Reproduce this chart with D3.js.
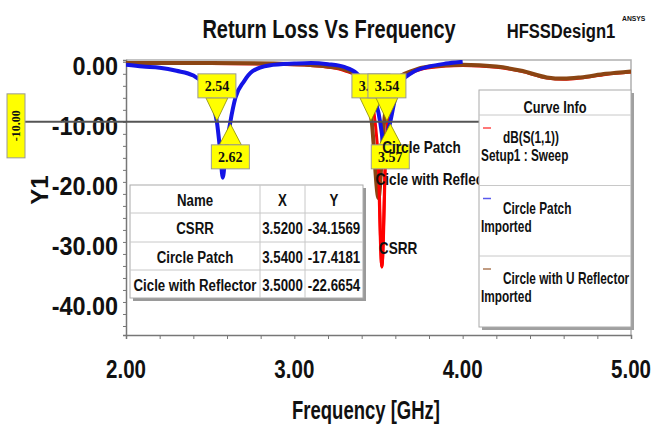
<!DOCTYPE html>
<html>
<head>
<meta charset="UTF-8">
<title>Return Loss Vs Frequency</title>
<style>
  body{margin:0;background:#fff;}
  svg text{font-family:"Liberation Sans",Arial,sans-serif;font-weight:bold;fill:#111;}
  .mk text, .ref text{font-family:"Liberation Serif","Times New Roman",serif;}
  .table line, .legend line.sep{stroke:#c8c8c8;stroke-width:1;}
</style>
</head>
<body>
<script src="https://cdnjs.cloudflare.com/ajax/libs/d3/7.8.5/d3.min.js"></script>
<script>
/// data

// CSRR  -> dB(S(1,1)) Setup1 : Sweep
var csrrF  = [2.00, 2.50, 3.00, 3.20, 3.30, 3.40, 3.45, 3.48, 3.50, 3.52, 3.54, 3.56, 3.60, 3.70, 3.80, 4.00, 4.20, 4.35, 4.50, 4.60, 4.70, 4.85, 5.00];
var csrrDb = [-0.3, -0.3, -0.5, -0.9, -1.5, -3.0, -5.5, -10.0, -17.0, -34.16, -17.0, -8.0, -4.0, -1.8, -1.0, -0.6, -0.9, -1.6, -2.7, -2.9, -2.7, -2.1, -1.7];

// Circle Patch (imported)
var patchF  = [2.00, 2.10, 2.20, 2.30, 2.40, 2.45, 2.48, 2.51, 2.54, 2.56, 2.575, 2.59, 2.62, 2.65, 2.70, 2.75, 2.85, 3.00, 3.10, 3.20, 3.30, 3.37, 3.42, 3.47, 3.50, 3.52, 3.54, 3.555, 3.57, 3.60, 3.63, 3.70, 3.80, 3.90, 4.00];
var patchDb = [-0.5, -0.8, -1.0, -1.5, -2.3, -3.3, -4.5, -6.8, -10.0, -15.0, -19.3, -15.5, -10.0, -6.0, -3.3, -1.6, -0.6, -0.3, -0.2, -0.4, -0.9, -1.9, -3.5, -6.0, -8.5, -12.0, -17.42, -12.0, -10.0, -6.0, -3.5, -1.8, -0.8, -0.3, 0.0];

// Circle with U Reflector (imported)
var reflF  = [2.00, 2.50, 3.00, 3.20, 3.30, 3.38, 3.43, 3.46, 3.50, 3.53, 3.56, 3.60, 3.70, 3.80, 4.00, 4.20, 4.35, 4.50, 4.60, 4.70, 4.85, 5.00];
var reflDb = [-0.2, -0.2, -0.4, -0.8, -1.3, -2.5, -4.5, -10.0, -22.67, -11.0, -5.0, -3.0, -1.5, -0.8, -0.5, -0.8, -1.5, -2.6, -2.8, -2.6, -2.0, -1.6];

var xTicks = [2, 3, 4, 5];
var yTicks = [0, -10, -20, -30, -40];
var refLevel = -10;

var markerF      = [2.54, 2.62, 3.455, 3.55, 3.57];
var markerLabels = ["2.54", "2.62", "3.46", "3.54", "3.57"];
var markerAbove  = [true, false, true, true, false];

var tableNames = ["CSRR", "Circle Patch", "Cicle with Reflector"];
var tableX     = [3.5200, 3.5400, 3.5000];
var tableY     = [-34.1569, -17.4181, -22.6654];

var legendNames = ["dB(S(1,1))", "Circle Patch", "Circle with U Reflector"];
var legendSubs  = ["Setup1 : Sweep", "Imported", "Imported"];

/// layout

var W = 652, H = 430;
var plot = {left: 126, right: 631, top: 60, bottom: 335};
var colors = ["#ff0000", "#1414e6", "#8b4513"];

var svg = d3.select("body").append("svg")
    .attr("width", W).attr("height", H);

var x = d3.scaleLinear().domain([2, 5]).range([plot.left, plot.right]);
var y = d3.scaleLinear().domain([-45.5, 0.3]).range([plot.bottom, plot.top]);
var fmt = function(d) { return d.toFixed(2); };

// condensed bold text, like the HFSS plot font
function label(g, px, py, str, size, sx, anchor) {
  return g.append("text")
      .attr("transform", "translate(" + px + "," + py + ") scale(" + sx + ",1)")
      .attr("text-anchor", anchor || "start")
      .style("font-size", size + "px")
      .text(str);
}

// titles
label(svg, 329, 38, "Return Loss Vs Frequency", 25, 0.8, "middle");
label(svg, 561, 38, "HFSSDesign1", 21, 0.79, "middle");
label(svg, 622, 21, "ANSYS", 8, 0.85);
label(svg, 366, 419, "Frequency [GHz]", 25, 0.74, "middle");
svg.append("text").attr("transform", "translate(48,190) rotate(-90)")
    .attr("text-anchor", "middle").style("font-size", "24px").text("Y1");

// plot frame (top / right)
svg.append("path")
    .attr("d", "M" + plot.left + "," + plot.top + "H" + plot.right + "V" + plot.bottom)
    .attr("fill", "none").attr("stroke", "#b0b0b0").attr("stroke-width", 1.5);

// axes
var gx = svg.append("g").attr("transform", "translate(0," + plot.bottom + ")")
    .call(d3.axisBottom(x).tickValues(d3.range(2, 5.01, 0.2)).tickSize(4).tickFormat(""));
var gy = svg.append("g").attr("transform", "translate(" + plot.left + ",0)")
    .call(d3.axisLeft(y).tickValues(d3.range(-44, 0.1, 2)).tickSize(3).tickFormat(""));
[gx, gy].forEach(function(g) {
  g.select(".domain").attr("stroke", "#777").attr("stroke-width", 1.5);
  g.selectAll(".tick line").attr("stroke", "#777");
});

var xl = svg.append("g"), yl = svg.append("g");
xTicks.forEach(function(t) { label(xl, x(t), 378, fmt(t), 26, 0.79, "middle"); });
yTicks.forEach(function(t) { label(yl, 118, y(t) + 13, fmt(t), 26, 0.9, "end"); });

// curves
svg.append("clipPath").attr("id", "clip").append("rect")
    .attr("x", plot.left).attr("y", plot.top)
    .attr("width", plot.right - plot.left).attr("height", plot.bottom - plot.top);

var line = d3.line()
    .x(function(d) { return x(d[0]); })
    .y(function(d) { return y(d[1]); })
    .curve(d3.curveMonotoneX);

var series = [
  {f: csrrF, v: csrrDb, w: 3},
  {f: patchF, v: patchDb, w: 4},
  {f: reflF, v: reflDb, w: 4}
];
var curves = svg.append("g").attr("clip-path", "url(#clip)");
[0, 2, 1].forEach(function(i) {
  var s = series[i];
  curves.append("path")
      .datum(d3.zip(s.f, s.v))
      .attr("d", line)
      .attr("fill", "none")
      .attr("stroke", colors[i])
      .attr("stroke-width", s.w)
      .attr("stroke-linejoin", "round");
});
// keep red visible in the notch
curves.append("path")
    .datum(d3.zip(csrrF, csrrDb).filter(function(d) { return d[0] >= 3.50 && d[0] <= 3.54; }))
    .attr("d", line).attr("fill", "none").attr("stroke", colors[0]).attr("stroke-width", 3);

// -10 dB reference marker line
var ref = svg.append("g").attr("class", "ref");
ref.append("line")
    .attr("x1", 25).attr("x2", plot.right)
    .attr("y1", y(refLevel)).attr("y2", y(refLevel))
    .attr("stroke", "#555").attr("stroke-width", 2);
ref.append("rect").attr("x", 7).attr("y", y(refLevel) - 28).attr("width", 18).attr("height", 64)
    .attr("fill", "#ffff00").attr("stroke", "#999");
ref.append("text").attr("transform", "translate(20," + (y(refLevel) + 4) + ") rotate(-90)")
    .attr("text-anchor", "middle").style("font-size", "12px").text(fmt(refLevel));

// marker callouts
var mk = svg.append("g").attr("class", "mk");
markerF.forEach(function(f, i) {
  var cx = x(f), ly = y(refLevel), bw = 38, bh = 24;
  var edge = markerAbove[i] ? ly - 24 : ly + 23;
  var top = markerAbove[i] ? edge - bh : edge;
  var g = mk.append("g");
  g.append("path")
      .attr("d", "M" + (cx - 11) + "," + edge + "L" + cx + "," + (markerAbove[i] ? ly - 1 : ly + 2) + "L" + (cx + 11) + "," + edge + "Z")
      .attr("fill", "#ffff00").attr("stroke", "#8a8a00").attr("stroke-width", 0.8);
  g.append("rect").attr("x", cx - bw / 2).attr("y", top).attr("width", bw).attr("height", bh)
      .attr("fill", "#ffff00").attr("stroke", "#999");
  g.append("text").attr("x", cx).attr("y", top + bh / 2 + 5)
      .attr("text-anchor", "middle").style("font-size", "14px").text(markerLabels[i]);
});

// marker name labels at the minima
var names = svg.append("g");
tableNames.forEach(function(n, i) {
  label(names, x(tableX[i]) - 3, y(tableY[i]) - 13, n, 16, 0.85);
});

// data table
var cols = [130, 260, 305, 363], rows = [185, 213, 242, 270, 298];
var tb = svg.append("g").attr("class", "table");
tb.append("rect").attr("x", cols[0] + 3).attr("y", rows[0] + 3)
    .attr("width", cols[3] - cols[0]).attr("height", rows[4] - rows[0]).attr("fill", "#9a9a9a");
tb.append("rect").attr("x", cols[0]).attr("y", rows[0])
    .attr("width", cols[3] - cols[0]).attr("height", rows[4] - rows[0])
    .attr("fill", "#fff").attr("stroke", "#aaa");
cols.slice(1, 3).forEach(function(c) {
  tb.append("line").attr("x1", c).attr("x2", c).attr("y1", rows[0]).attr("y2", rows[4]);
});
rows.slice(1, 4).forEach(function(r) {
  tb.append("line").attr("x1", cols[0]).attr("x2", cols[3]).attr("y1", r).attr("y2", r);
});
var cells = [["Name", "X", "Y"]].concat(tableNames.map(function(n, i) {
  return [n, tableX[i].toFixed(4), tableY[i].toFixed(4)];
}));
cells.forEach(function(row, r) {
  row.forEach(function(t, c) {
    label(tb, (cols[c] + cols[c + 1]) / 2, rows[r] + 21, t, 17, 0.78, "middle");
  });
});

// legend
var lg = svg.append("g").attr("class", "legend");
var L = {x: 479, y: 90, w: 152, h: 237};
lg.append("rect").attr("x", L.x + 3).attr("y", L.y + 3).attr("width", L.w).attr("height", L.h).attr("fill", "#a0a0a0");
lg.append("rect").attr("x", L.x).attr("y", L.y).attr("width", L.w).attr("height", L.h)
    .attr("fill", "#fff").attr("stroke", "#aaa");
label(lg, L.x + L.w / 2, L.y + 23, "Curve Info", 16, 0.8, "middle");
legendNames.forEach(function(n, i) {
  var y0 = 115 + i * 70.5;
  lg.append("line").attr("class", "sep").attr("x1", L.x).attr("x2", L.x + L.w).attr("y1", y0).attr("y2", y0);
  lg.append("line").attr("x1", L.x + 4).attr("x2", L.x + 12).attr("y1", y0 + 13).attr("y2", y0 + 13)
      .attr("stroke", colors[i]).attr("stroke-width", 1.5).attr("opacity", 0.7);
  label(lg, L.x + 24, y0 + 28, n, 16, 0.74);
  label(lg, L.x + 2, y0 + 46, legendSubs[i], 16, 0.74);
});
</script>
</body>
</html>
